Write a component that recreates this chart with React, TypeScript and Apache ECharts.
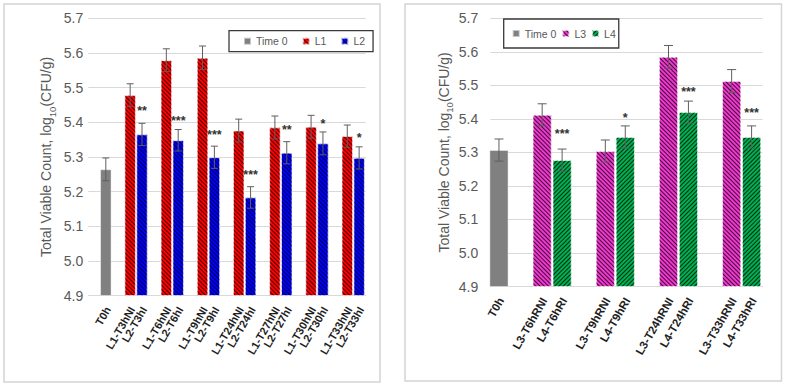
import { useEffect, useRef } from 'react';
import * as echarts from 'echarts';

// ---------- shared scale ----------
const AXIS_MIN = 4.9;
const AXIS_MAX = 5.7;
const AXIS_STEP = 0.1;

// ---------- left panel: L1 (NI) vs L2 (I) ----------
const leftGroups = ['T0h', 'T3h', 'T6h', 'T9h', 'T24h', 'T27h', 'T30h', 'T33h'];
const leftTime0 = 5.264;
const leftTime0Err = 0.033;
const leftTime0Name = 'T0h';
const l1Values = [5.478, 5.579, 5.586, 5.376, 5.385, 5.387, 5.36];
const l1Err = [0.033, 0.033, 0.034, 0.033, 0.033, 0.033, 0.032];
const l2Values = [5.365, 5.348, 5.299, 5.183, 5.312, 5.339, 5.297];
const l2Err = [0.032, 0.031, 0.032, 0.031, 0.032, 0.033, 0.032];
const l1Names = ['L1-T3hNI', 'L1-T6hNI', 'L1-T9hNI', 'L1-T24hNI', 'L1-T27hNI', 'L1-T30hNI', 'L1-T33hNI'];
const l2Names = ['L2-T3hI', 'L2-T6hI', 'L2-T9hI', 'L2-T24hI', 'L2-T27hI', 'L2-T30hI', 'L2-T33hI'];
const leftSig = ['**', '***', '***', '***', '**', '*', '*'];
const leftSigY = [5.44, 5.411, 5.371, 5.257, 5.387, 5.404, 5.363];

// ---------- right panel: L3 (RNI) vs L4 (RI) ----------
const rightGroups = ['T0h', 'T6h', 'T9h', 'T24h', 'T33h'];
const rightTime0 = 5.307;
const rightTime0Err = 0.033;
const rightTime0Name = 'T0h';
const l3Values = [5.412, 5.304, 5.585, 5.513];
const l3Err = [0.033, 0.033, 0.034, 0.034];
const l4Values = [5.277, 5.346, 5.42, 5.346];
const l4Err = [0.033, 0.033, 0.033, 0.033];
const l3Names = ['L3-T6hRNI', 'L3-T9hRNI', 'L3-T24hRNI', 'L3-T33hRNI'];
const l4Names = ['L4-T6hRI', 'L4-T9hRI', 'L4-T24hRI', 'L4-T33hRI'];
const rightSig = ['***', '*', '***', '***'];
const rightSigY = [5.364, 5.412, 5.488, 5.426];

const FONT = "'Liberation Sans', Arial, sans-serif";
const TEXT = '#595959';
const GRID_LINE = '#d9d9d9';

const stripes = (rotation: number) => ({
  symbol: 'rect',
  symbolSize: 1,
  color: 'rgba(0,0,0,0.75)',
  dashArrayX: [1, 0],
  dashArrayY: [1, 2],
  rotation,
});

type PanelCfg = {
  barGrid: number;
  time0: number;
  time0Err: number;
  time0Name: string;
  aName: string;
  bName: string;
  aColor: string;
  bColor: string;
  aValues: number[];
  aErr: number[];
  bValues: number[];
  bErr: number[];
  aNames: string[];
  bNames: string[];
  sig: string[];
  sigY: number[];
  barWidth: number;
  barGapPct: number;
  capHalf: number;
  labelFont: string;
  aRot: number;
  bRot: number;
};

function panelSeries(p: PanelCfg) {
  const halfStep = (p.barWidth * (1 + p.barGapPct / 100)) / 2;
  const axisIdx = { xAxisIndex: p.barGrid, yAxisIndex: p.barGrid };
  const border = { borderColor: 'rgba(255,255,255,0.55)', borderWidth: 0.8 };

  // error bars: [group, mean, err, slot]
  const errRows: number[][] = [[0, p.time0, p.time0Err, 1]];
  p.aValues.forEach((v, i) => errRows.push([i + 1, v, p.aErr[i], -1]));
  p.bValues.forEach((v, i) => errRows.push([i + 1, v, p.bErr[i], 1]));

  // bar names under the axis: [group, slot]
  const nameRows: number[][] = [[0, 1]];
  const nameTexts: string[] = [p.time0Name];
  p.aNames.forEach((n, i) => {
    nameRows.push([i + 1, -1]);
    nameTexts.push(n);
  });
  p.bNames.forEach((n, i) => {
    nameRows.push([i + 1, 1]);
    nameTexts.push(n);
  });

  const sigRows = p.sigY.map((y, i) => [i + 1, y]);

  return [
    {
      name: p.aName,
      type: 'bar',
      ...axisIdx,
      stack: p.aName,
      barWidth: p.barWidth,
      barGap: p.barGapPct + '%',
      itemStyle: { color: p.aColor, decal: stripes(p.aRot), ...border },
      data: ['-', ...p.aValues],
    },
    {
      name: 'Time 0',
      type: 'bar',
      ...axisIdx,
      stack: 'time0-' + p.bName,
      barWidth: p.barWidth,
      barGap: p.barGapPct + '%',
      itemStyle: { color: '#808080', ...border },
      data: [p.time0, ...p.aValues.map(() => '-')],
    },
    {
      name: p.bName,
      type: 'bar',
      ...axisIdx,
      stack: 'time0-' + p.bName,
      barWidth: p.barWidth,
      barGap: p.barGapPct + '%',
      itemStyle: { color: p.bColor, decal: stripes(p.bRot), ...border },
      data: ['-', ...p.bValues],
    },
    {
      type: 'custom',
      ...axisIdx,
      z: 5,
      silent: true,
      data: errRows,
      renderItem: (_params: any, api: any) => {
        const g = api.value(0);
        const m = api.value(1);
        const e = api.value(2);
        const slot = api.value(3);
        const top = api.coord([g, m + e]);
        const bot = api.coord([g, m - e]);
        const x = top[0] + slot * halfStep;
        const style = { stroke: '#5f5f5f', lineWidth: 1 };
        return {
          type: 'group',
          children: [
            { type: 'line', shape: { x1: x, y1: top[1], x2: x, y2: bot[1] }, style },
            { type: 'line', shape: { x1: x - p.capHalf, y1: top[1], x2: x + p.capHalf, y2: top[1] }, style },
            { type: 'line', shape: { x1: x - p.capHalf, y1: bot[1], x2: x + p.capHalf, y2: bot[1] }, style },
          ],
        };
      },
    },
    {
      type: 'custom',
      ...axisIdx,
      z: 5,
      silent: true,
      clip: false,
      data: nameRows,
      renderItem: (params: any, api: any) => {
        const g = api.value(0);
        const slot = api.value(1);
        const pt = api.coord([g, AXIS_MIN]);
        return {
          type: 'text',
          x: pt[0] + slot * halfStep + 2,
          y: pt[1] + 12,
          rotation: Math.PI / 3,
          style: {
            text: nameTexts[params.dataIndex],
            font: p.labelFont,
            fill: '#1e1e1e',
            align: 'right',
            verticalAlign: 'middle',
          },
        };
      },
    },
    {
      type: 'custom',
      ...axisIdx,
      z: 5,
      silent: true,
      data: sigRows,
      renderItem: (params: any, api: any) => {
        const pt = api.coord([api.value(0), api.value(1)]);
        return {
          type: 'text',
          x: pt[0] + halfStep,
          y: pt[1] + 3,
          style: {
            text: p.sig[params.dataIndex],
            font: `bold 12.5px ${FONT}`,
            fill: '#333333',
            align: 'center',
            verticalAlign: 'middle',
          },
        };
      },
    },
  ];
}

const yName = '{n|Total Viable Count, log}{s|10}{n|(CFU/g)}';
const yNameStyle = {
  color: TEXT,
  fontFamily: FONT,
  rich: {
    n: { fontSize: 14, color: TEXT, fontFamily: FONT, verticalAlign: 'top', lineHeight: 16 },
    s: { fontSize: 9.5, color: TEXT, fontFamily: FONT, verticalAlign: 'bottom', lineHeight: 18 },
  },
};

function frameAxes(gridIndex: number, labelMargin: number, nameGap: number) {
  return {
    x: {
      type: 'category',
      gridIndex,
      data: [''],
      axisLine: { show: true, lineStyle: { color: GRID_LINE, width: 1 } },
      axisTick: { show: false },
      axisLabel: { show: false },
      splitLine: { show: false },
    },
    y: {
      type: 'value',
      gridIndex,
      min: AXIS_MIN,
      max: AXIS_MAX,
      interval: AXIS_STEP,
      axisLine: { show: false },
      axisTick: { show: false },
      splitLine: { lineStyle: { color: GRID_LINE, width: 1 } },
      axisLabel: {
        margin: labelMargin,
        fontSize: 14,
        fontFamily: FONT,
        color: TEXT,
        formatter: (v: number) => v.toFixed(1),
      },
      name: yName,
      nameLocation: 'middle',
      nameRotate: 90,
      nameGap,
      nameTextStyle: yNameStyle,
    },
  };
}

function barAxes(gridIndex: number, groups: string[]) {
  return {
    x: { type: 'category', gridIndex, data: groups, show: false },
    y: { type: 'value', gridIndex, min: AXIS_MIN, max: AXIS_MAX, show: false, splitLine: { show: false } },
  };
}

function buildOption() {
  const lf = frameAxes(0, 5, 31);
  const lb = barAxes(1, leftGroups);
  const rf = frameAxes(2, 12, 27);
  const rb = barAxes(3, rightGroups);

  const left = panelSeries({
    barGrid: 1,
    time0: leftTime0,
    time0Err: leftTime0Err,
    time0Name: leftTime0Name,
    aName: 'L1',
    bName: 'L2',
    aColor: '#ff0000',
    bColor: '#0000ff',
    aValues: l1Values,
    aErr: l1Err,
    bValues: l2Values,
    bErr: l2Err,
    aNames: l1Names,
    bNames: l2Names,
    sig: leftSig,
    sigY: leftSigY,
    barWidth: 11.3,
    barGapPct: 5,
    capHalf: 3.5,
    labelFont: `bold 11px ${FONT}`,
    aRot: Math.PI / 4,
    bRot: Math.PI / 4,
  });
  const right = panelSeries({
    barGrid: 3,
    time0: rightTime0,
    time0Err: rightTime0Err,
    time0Name: rightTime0Name,
    aName: 'L3',
    bName: 'L4',
    aColor: '#f236d0',
    bColor: '#00b050',
    aValues: l3Values,
    aErr: l3Err,
    bValues: l4Values,
    bErr: l4Err,
    aNames: l3Names,
    bNames: l4Names,
    sig: rightSig,
    sigY: rightSigY,
    barWidth: 19,
    barGapPct: 5,
    capHalf: 4.5,
    labelFont: `bold 11.5px ${FONT}`,
    aRot: Math.PI / 4,
    bRot: -Math.PI / 4,
  });

  const legendBase = {
    orient: 'horizontal',
    icon: 'rect',
    itemWidth: 7,
    itemHeight: 7,
    borderColor: '#3a3a3a',
    borderWidth: 1.3,
    backgroundColor: '#ffffff',
    textStyle: { fontSize: 10.5, fontFamily: FONT, color: TEXT },
  };

  return {
    animation: false,
    backgroundColor: '#ffffff',
    textStyle: { fontFamily: FONT },
    grid: [
      { left: 88.3, top: 18.3, width: 277.4, height: 277.2, outerBoundsMode: 'none' },
      { left: 81.8, top: 18.3, width: 289.5, height: 277.2, outerBoundsMode: 'none' },
      { left: 490.3, top: 18.3, width: 272.2, height: 268.2, outerBoundsMode: 'none' },
      { left: 457.4, top: 18.3, width: 315.8, height: 268.2, outerBoundsMode: 'none' },
    ],
    xAxis: [lf.x, lb.x, rf.x, rb.x],
    yAxis: [lf.y, lb.y, rf.y, rb.y],
    legend: [
      {
        ...legendBase,
        data: ['Time 0', 'L1', 'L2'],
        left: 229,
        top: 30.7,
        itemGap: 14,
        padding: [5, 8, 5, 14],
      },
      {
        ...legendBase,
        data: ['Time 0', 'L3', 'L4'],
        left: 503.7,
        top: 19,
        itemGap: 5,
        padding: [9, 3, 9, 8],
      },
    ],
    graphic: [
      {
        type: 'rect',
        shape: { x: 4, y: 4, width: 376, height: 378 },
        style: { fill: 'none', stroke: '#d4d4d4', lineWidth: 1.5 },
        silent: true,
      },
      {
        type: 'rect',
        shape: { x: 405, y: 4, width: 376.5, height: 377 },
        style: { fill: 'none', stroke: '#d4d4d4', lineWidth: 1.5 },
        silent: true,
      },
    ],
    series: [...left, ...right],
  };
}

export default function App() {
  const ref = useRef<HTMLDivElement>(null);
  useEffect(() => {
    if (!ref.current) return;
    const chart = echarts.init(ref.current, null, { renderer: 'svg' });
    chart.setOption(buildOption() as any);
    return () => chart.dispose();
  }, []);
  return (
    <div
      ref={ref}
      style={{ position: 'fixed', left: 0, top: 0, width: 786, height: 387, background: '#ffffff' }}
    />
  );
}
